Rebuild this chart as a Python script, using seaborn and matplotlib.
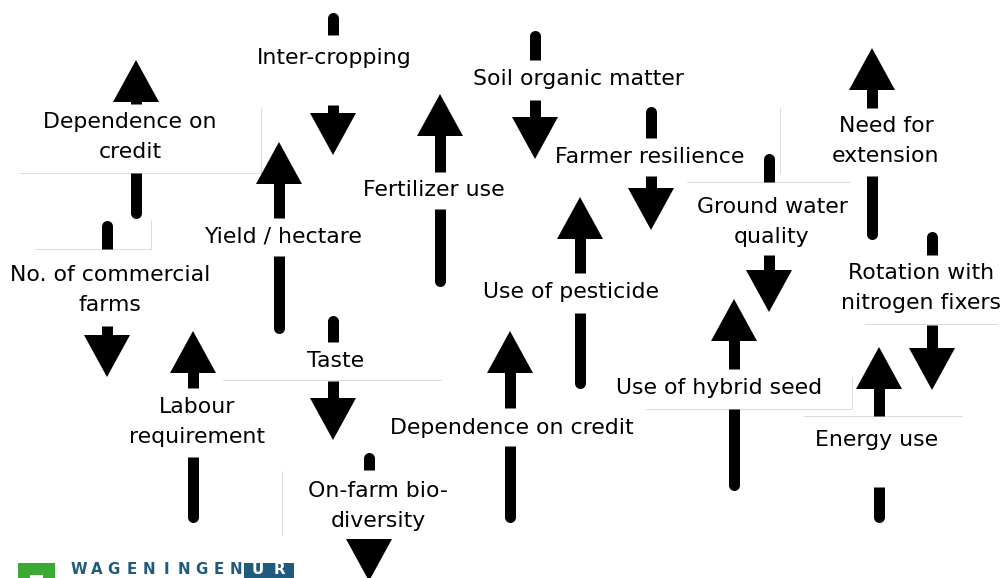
import numpy as np
import pandas as pd
import matplotlib
matplotlib.use("Agg")
import matplotlib.pyplot as plt
import seaborn as sns

# ---------------- data ----------------
labels = [
    "Dependence on\ncredit", "No. of commercial\nfarms", "Inter-cropping",
    "Yield / hectare", "Fertilizer use", "Soil organic matter",
    "Farmer resilience", "Ground water\nquality", "Need for\nextension",
    "Rotation with\nnitrogen fixers", "Use of pesticide", "Use of hybrid seed",
    "Energy use", "Dependence on credit", "Labour\nrequirement", "Taste",
    "On-farm bio-\ndiversity",
]
direction = ["up", "down", "down", "up", "up", "down", "down", "down", "up",
             "down", "up", "up", "up", "up", "up", "down", "down"]
label_x = [130, 110, 334, 283, 434, 578, 650, 772, 886, 921, 571, 719, 877, 512, 197, 336, 378]
label_y = [137, 290, 58, 237, 190, 79, 157, 222, 141, 288, 292, 388, 440, 428, 422, 361, 506]
arrow_x = [136, 107, 333, 279, 440, 535, 651, 769, 872, 932, 580, 734, 879, 510, 193, 333, 369]
tail_end = [218, 220, 12, 333, 286, 30, 106, 153, 239, 231, 388, 490, 522, 522, 522, 315, 452]
tail_gap = [173, 249, 35, 256, 209, 60, 138, 182, 176, 255, 313, 409, 487, 446, 457, 342, 470]
head_gap = [104, 326, 105, 218, 172, 100, 176, 255, 108, 325, 273, 369, 416, 408, 388, 381, 539]
tip_y = [60, 377, 155, 142, 94, 159, 230, 312, 48, 390, 197, 299, 347, 331, 331, 440, 581]

df = pd.DataFrame(dict(label=labels, dir=direction, lx=label_x, ly=label_y, ax_=arrow_x,
                       tend=tail_end, tgap=tail_gap, hgap=head_gap, tipy=tip_y))

# faint text-box borders visible in the reference
box_edges = [
    ((20, 261), (173, 173)), ((261, 261), (108, 173)),
    ((35, 151), (249, 249)), ((151, 151), (220, 249)),
    ((687, 850), (182, 182)), ((780, 780), (108, 173)),
    ((223, 441), (380, 380)), ((646, 852), (409, 409)), ((852, 852), (377, 409)),
    ((804, 962), (416, 416)), ((865, 997), (324, 324)), ((282, 282), (471, 535)),
]

logo_word = "WAGENINGEN"
logo_ur = "UR"

# ---------------- drawing ----------------
sns.set_theme(style="white")
plt.rcParams["font.family"] = ["DejaVu Sans"]

W, H = 1004, 578
fig = plt.figure(figsize=(W / 100, H / 100), dpi=100)
ax = fig.add_axes([0, 0, 1, 1])
ax.set_xlim(0, W)
ax.set_ylim(H, 0)
ax.axis("off")

px = 72 / 100  # points per pixel
shaft_w = 11
head_half = 23
head_len = 42

for (xs, ys) in box_edges:
    ax.plot(xs, ys, color="#dcdcdc", lw=1 * px, zorder=1)

for r in df.itertuples(index=False):
    s = -1 if r.dir == "up" else 1  # direction of travel in pixel y
    x = r.ax_
    # tail segment with rounded outer end
    cap_c = r.tend + s * shaft_w / 2
    ax.plot([x, x], [cap_c, r.tgap], color="black", lw=shaft_w * px,
            solid_capstyle="butt", zorder=3)
    ax.plot([x], [cap_c], marker="o", ms=shaft_w * px, color="black",
            mec="none", zorder=3)
    # head shaft stub + triangle
    base = r.tipy - s * head_len
    ax.plot([x, x], [r.hgap, base + s * 1], color="black", lw=shaft_w * px,
            solid_capstyle="butt", zorder=3)
    ax.fill([x - head_half, x + head_half, x], [base, base, r.tipy],
            color="black", lw=0, zorder=3)
    ax.text(r.lx, r.ly, r.label, ha="center", va="center", fontsize=22 * px,
            linespacing=1.6, color="black", zorder=4)

# logo
ax.add_patch(plt.Rectangle((18, 563), 37, 20, color="#3aaa35", lw=0, zorder=5))
ax.add_patch(plt.Rectangle((30, 575), 13, 8, color="white", lw=0, zorder=6))
for ch, xx in zip(logo_word, np.linspace(79, 236, len(logo_word))):
    ax.text(xx, 577.5, ch, ha="center", va="bottom", fontsize=15 * px,
            fontweight="bold", color="#1f5b7c", zorder=5)
ax.add_patch(plt.Rectangle((244, 563), 50, 20, color="#1f5b7c", lw=0, zorder=5))
for ch, xx in zip(logo_ur, [258, 279]):
    ax.text(xx, 577.5, ch, ha="center", va="bottom", fontsize=15 * px,
            fontweight="bold", color="white", zorder=6)

fig.savefig("out.png", dpi=100, facecolor="white")
